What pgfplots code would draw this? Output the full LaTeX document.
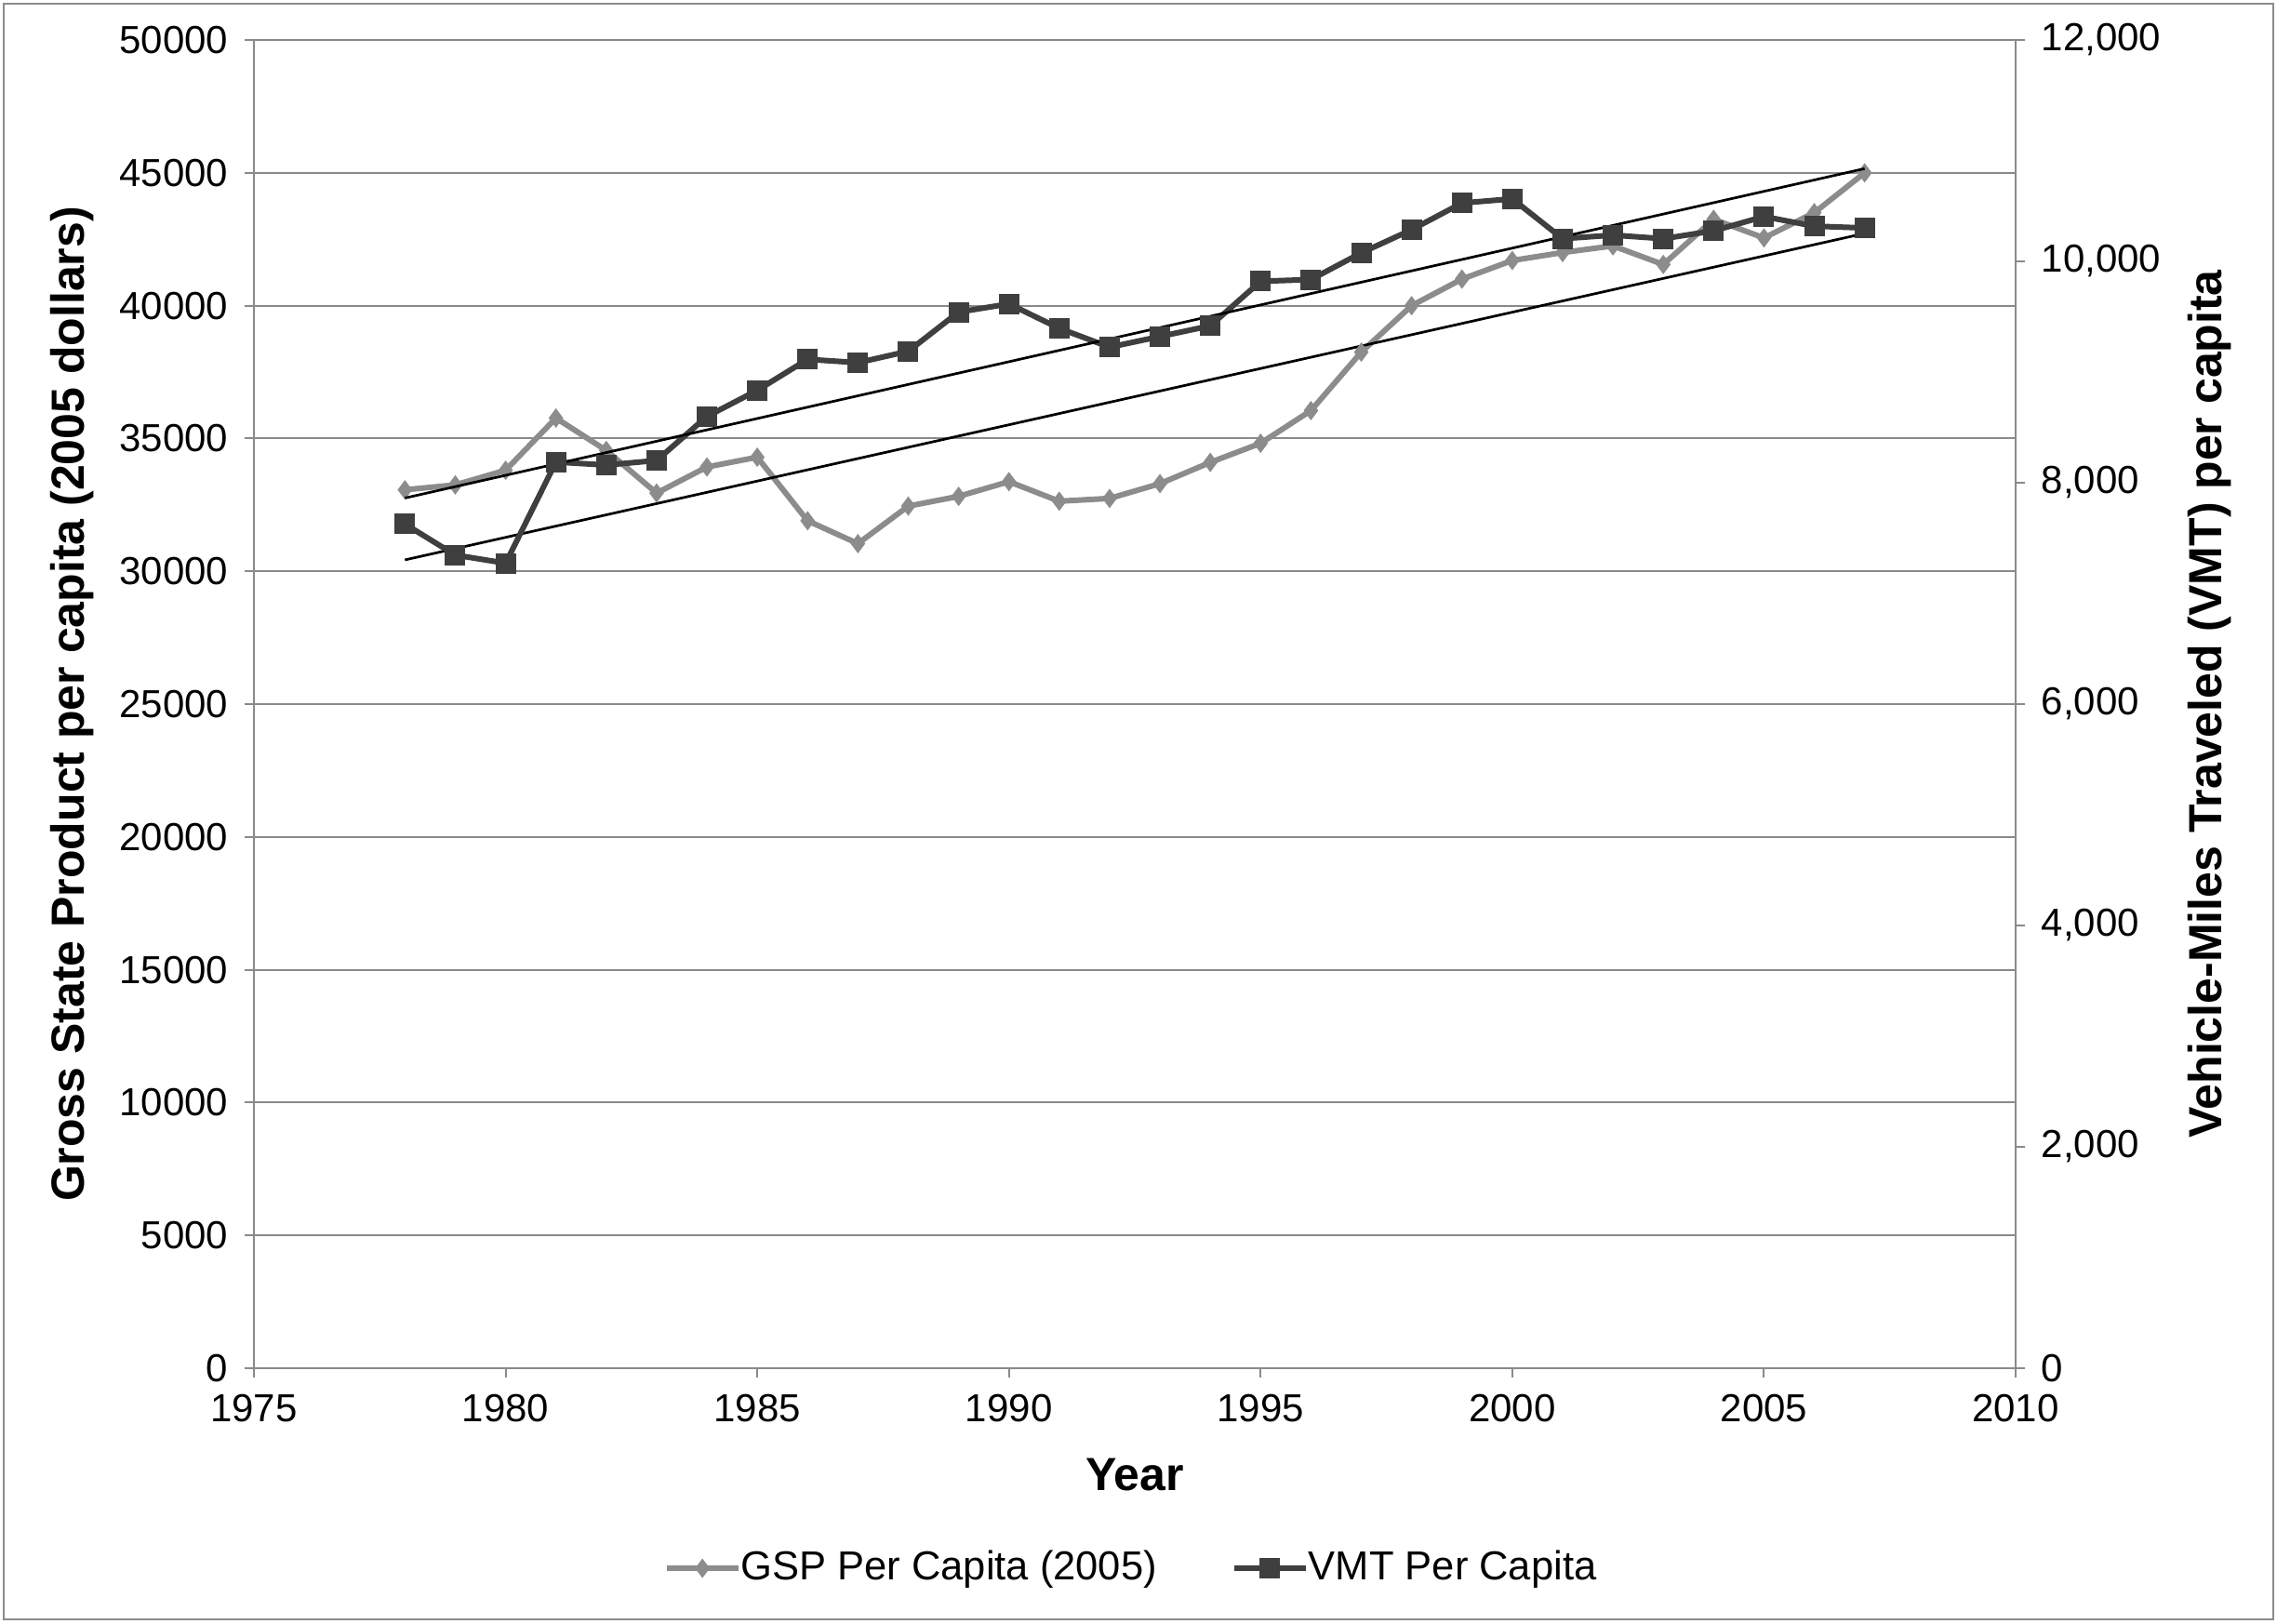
\documentclass[border=0pt]{standalone}
\usepackage{pgfplots}
\pgfplotsset{compat=1.18}
\usepackage{pgfplotstable}
\usepackage{fontspec}
\setmainfont{Liberation Sans}

\definecolor{gspgray}{HTML}{8C8C8C}
\definecolor{vmtgray}{HTML}{3F3F3F}
\definecolor{gridgray}{HTML}{8A8A8A}

% year, GSP per capita (2005 dollars), VMT per capita
\pgfplotstableread{
year gsp vmt
1978 33068 7627
1979 33252 7347
1980 33804 7273
1981 35768 8187
1982 34550 8160
1983 32945 8201
1984 33927 8599
1985 34295 8835
1986 31902 9115
1987 31043 9085
1988 32454 9188
1989 32822 9542
1990 33375 9616
1991 32638 9395
1992 32744 9225
1993 33300 9321
1994 34100 9418
1995 34820 9820
1996 36050 9836
1997 38250 10077
1998 40000 10286
1999 41000 10527
2000 41700 10565
2001 42000 10205
2002 42250 10237
2003 41550 10205
2004 43250 10276
2005 42550 10405
2006 43500 10318
2007 45000 10302
}\datatable

\pgfplotsset{
  common/.style={
    scale only axis, width=378.8pt, height=285.6pt,
    xmin=1975, xmax=2010,
    tick align=outside, major tick length=2pt,
    tick style={gridgray, line width=0.4pt},
    axis line style={gridgray, line width=0.4pt},
    tick label style={font=\fontsize{8.4}{10}\selectfont},
    scaled y ticks=false,
    /pgf/number format/assume math mode=true,
    legend image code/.code={
      \draw[mark repeat=2,mark phase=2,#1] plot coordinates {(0pt,0pt) (7.7pt,0pt) (15.4pt,0pt)};
    },
  },
  gspstyle/.style={gspgray, line width=1.2pt, mark=diamond*, mark size=1.1pt, mark options={solid, fill=gspgray}},
  vmtstyle/.style={vmtgray, line width=1.2pt, mark=square*, mark size=1.6pt, mark options={solid, fill=vmtgray}},
}

\begin{document}
\begin{tikzpicture}
\begin{axis}[
  common,
  axis x line*=bottom, axis y line*=left,
  ymin=0, ymax=50000, ytick={0,5000,...,50000},
  xtick={1975,1980,...,2010},
  /pgf/number format/1000 sep={},
  ymajorgrids, grid style={gridgray, line width=0.4pt},
  xlabel={Year},
  ylabel={Gross State Product per capita (2005 dollars)},
  every axis x label/.style={at={(axis description cs:0.5,-0.08)}, anchor=center, font=\bfseries\fontsize{10}{12}\selectfont},
  every axis y label/.style={at={(axis description cs:-0.103,0.5)}, rotate=90, anchor=center, font=\bfseries\fontsize{10}{12}\selectfont},
  legend style={at={(axis description cs:0.5,-0.1506)}, anchor=center, draw=none, fill=none,
    font=\fontsize{8.7}{10}\selectfont, legend columns=2,
    /tikz/every even column/.append style={column sep=14pt},
    /tikz/every odd column/.append style={column sep=-2pt}},
  legend cell align=left,
]
\addplot[gspstyle] table[x=year, y=gsp] {\datatable};
\addlegendentry{GSP Per Capita (2005)}
\addlegendimage{vmtstyle}
\addlegendentry{VMT Per Capita}
% linear trend of GSP
\addplot[black, line width=0.55pt, forget plot] coordinates {(1978,30430) (2007,42720)};
\end{axis}

\begin{axis}[
  common,
  axis x line=none, axis y line*=right,
  ymin=0, ymax=12000, ytick={0,2000,...,12000},
  /pgf/number format/1000 sep={,},
  ylabel={Vehicle-Miles Traveled (VMT) per capita},
  every axis y label/.style={at={(axis description cs:1.110,0.5)}, rotate=90, anchor=center, font=\bfseries\fontsize{10}{12}\selectfont},
]
\addplot[vmtstyle] table[x=year, y=vmt] {\datatable};
% linear trend of VMT
\addplot[black, line width=0.55pt] coordinates {(1978,7862) (2007,10838)};
\end{axis}

\draw[gridgray, line width=0.4pt] (-53.8pt,-54pt) rectangle (434.2pt,293.4pt);
\path (-54.6pt,-54.8pt) rectangle (435pt,294.2pt);
\end{tikzpicture}
\end{document}
